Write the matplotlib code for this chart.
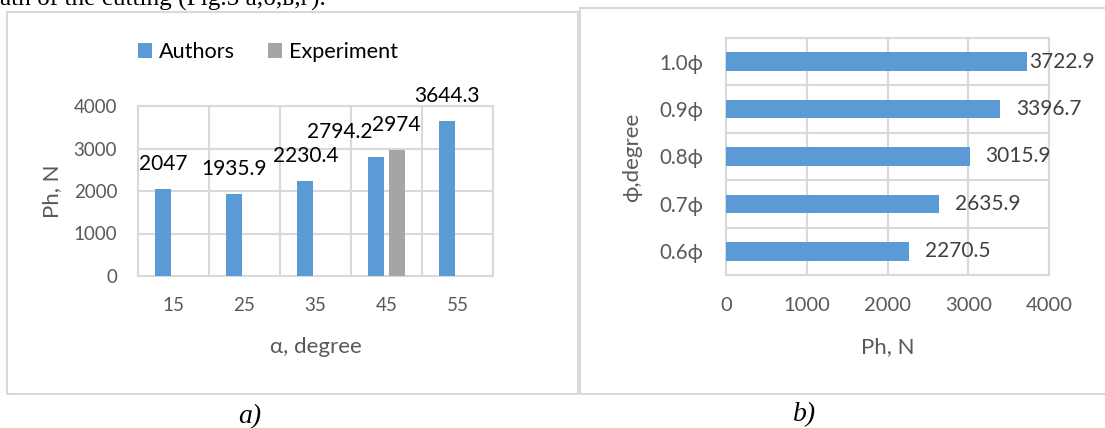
import matplotlib.pyplot as plt
from matplotlib.patches import Rectangle

plt.rcParams['font.family'] = ['Lato', 'DejaVu Sans']

W, H = 1105, 428

# panel a) data
angles = ['15', '25', '35', '45', '55']
authors = [2047, 1935.9, 2230.4, 2794.2, 3644.3]
experiment = [None, None, None, 2974, None]

# panel b) data
phi_labels = ['0.6ϕ', '0.7ϕ', '0.8ϕ', '0.9ϕ', '1.0ϕ']
phi_force = [2270.5, 2635.9, 3015.9, 3396.7, 3722.9]

blue = '#5b9bd5'
grey = '#a5a5a5'
txt = '#595959'
gridc = '#d9d9d9'


def box(l, t, r, b):
    # pixel box -> figure fraction [left, bottom, width, height]
    return [l / W, 1 - b / H, (r - l) / W, (b - t) / H]


fig = plt.figure(figsize=(W / 100, H / 100), dpi=100)

# frames of the two charts
for l, t, r, b in [(7, 12, 578, 394), (580, 8, 1120, 394)]:
    fig.patches.append(Rectangle((l / W, 1 - b / H), (r - l) / W, (b - t) / H,
                                 transform=fig.transFigure, fill=False,
                                 edgecolor=gridc, lw=1.5))

# cut text line at top of the page
fig.text(0, 1 - 5 / H, 'ath of the cutting (Fig.5 a,б,в,г).',
         family='Liberation Serif', fontsize=18.2, va='baseline', ha='left')

# ---- a) ----
ax1 = fig.add_axes(box(138, 106, 493, 276))
x = list(range(len(angles)))
bw = 0.22
off = 0.144
b1 = ax1.bar([i - off for i in x], authors, bw, color=blue, label='Authors', zorder=3)
ex_x = [i + off for i, v in zip(x, experiment) if v is not None]
ex_v = [v for v in experiment if v is not None]
b2 = ax1.bar(ex_x, ex_v, bw, color=grey, label='Experiment', zorder=3)

ax1.set_xlim(-0.5, len(angles) - 0.5)
ax1.set_ylim(0, 4000)
ax1.set_yticks([0, 1000, 2000, 3000, 4000])
ax1.set_xticks(x)
ax1.set_xticklabels(angles)
ax1.set_xticks([i - 0.5 for i in range(len(angles) + 1)], minor=True)

for i, (xi, v) in enumerate(zip(x, authors)):
    dx = -37 if experiment[i] is not None else 0
    ax1.annotate(f'{v:g}', (xi - off, v), xytext=(dx, 15), textcoords='offset pixels',
                 ha='center', va='bottom', fontsize=15, color='black')
for xi, v in zip(ex_x, ex_v):
    ax1.annotate(f'{v:g}', (xi, v), xytext=(0, 15), textcoords='offset pixels',
                 ha='center', va='bottom', fontsize=15, color='black')

ax1.grid(True, axis='y', which='major', color=gridc, lw=1.5, zorder=0)
ax1.grid(True, axis='x', which='minor', color=gridc, lw=1.5, zorder=0)
ax1.tick_params(which='both', length=0)
ax1.tick_params(axis='y', pad=15, labelsize=13.5, labelcolor=txt)
ax1.tick_params(axis='x', pad=14.8, labelsize=13.5, labelcolor=txt)
for s in ax1.spines.values():
    s.set_color(gridc)
    s.set_linewidth(1.5)
ax1.set_ylabel('Ph, N', fontsize=16, color=txt, va='center')
ax1.yaxis.set_label_coords(-0.242, 0.5)
ax1.set_xlabel('α, degree', fontsize=16, color=txt, va='center')
ax1.xaxis.set_label_coords(0.5, -0.418)

fig.legend(handles=[b1, b2], loc='center', bbox_to_anchor=(268 / W, 1 - 52 / H),
           ncol=2, frameon=False, fontsize=15.6, handlelength=0.65, handleheight=0.65,
           handletextpad=0.35, columnspacing=1.5, borderpad=0)

# ---- b) ----
ax2 = fig.add_axes(box(726, 38, 1049, 275))
y = list(range(len(phi_labels)))
ax2.barh(y, phi_force, 0.39, color=blue, zorder=3)
ax2.set_xlim(0, 4000)
ax2.set_ylim(-0.5, len(phi_labels) - 0.5)
ax2.set_xticks([0, 1000, 2000, 3000, 4000])
ax2.set_yticks(y)
ax2.set_yticklabels(phi_labels)
ax2.set_yticks([i - 0.5 for i in range(len(phi_labels) + 1)], minor=True)

for yi, v in zip(y, phi_force):
    end_px = ax2.transData.transform((v, yi))[0]
    dx = min(16, 1029 - end_px)
    ax2.annotate(f'{v:g}', (v, yi), xytext=(dx, 0), textcoords='offset pixels',
                 ha='left', va='center', fontsize=15, color='#404040')

ax2.grid(True, axis='x', which='major', color=gridc, lw=1.5, zorder=0)
ax2.grid(True, axis='y', which='minor', color=gridc, lw=1.5, zorder=0)
ax2.tick_params(which='both', length=0)
ax2.tick_params(axis='y', pad=16.5, labelsize=14.8, labelcolor=txt)
ax2.tick_params(axis='x', pad=15.5, labelsize=14.5, labelcolor=txt)
for s in ax2.spines.values():
    s.set_color(gridc)
    s.set_linewidth(1.5)
ax2.set_ylabel('ϕ,degree', fontsize=16, color=txt, va='center')
ax2.yaxis.set_label_coords(-0.291, 0.498)
ax2.set_xlabel('Ph, N', fontsize=16, color=txt, va='center')
ax2.xaxis.set_label_coords(0.5, -0.304)

# captions
fig.text(250 / W, 1 - 417 / H, 'a)', family='Liberation Serif', style='italic',
         fontsize=20, ha='center', va='center')
fig.text(805 / W, 1 - 415 / H, 'b)', family='Liberation Serif', style='italic',
         fontsize=20, ha='center', va='center')

fig.savefig('out.png', dpi=100)
